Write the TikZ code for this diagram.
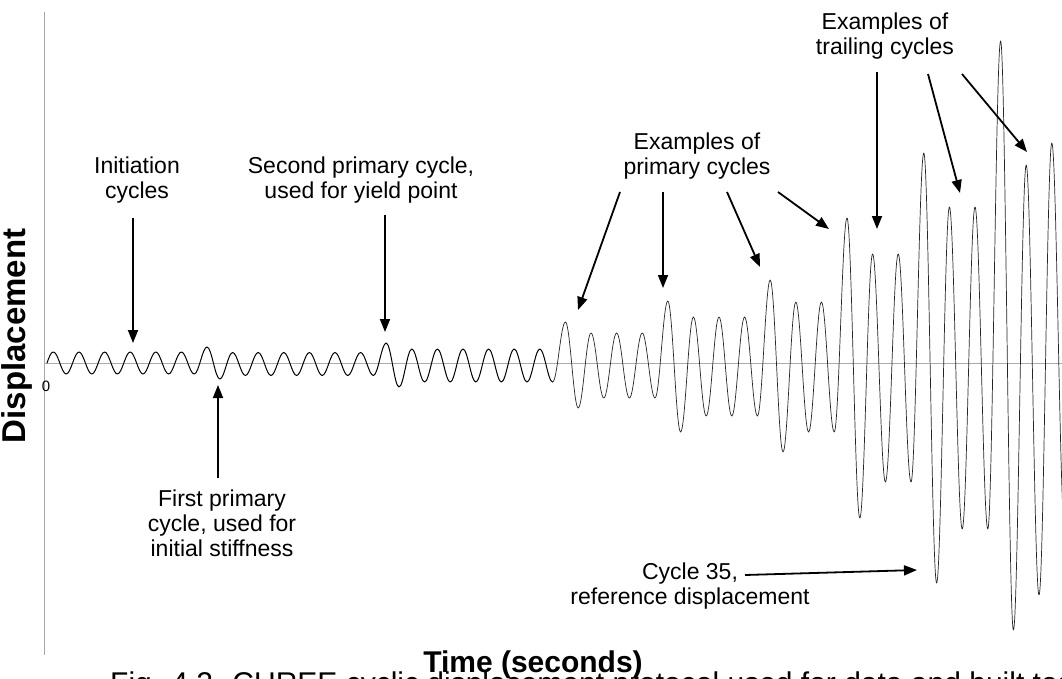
\documentclass[tikz,border=0pt]{standalone}
\usepackage{fontspec}
\setmainfont{Liberation Sans}
\usetikzlibrary{arrows.meta}
\begin{document}
\begin{tikzpicture}[x=1pt,y=-1pt,
  lbl/.style={font=\fontsize{23}{25}\selectfont, align=center, inner sep=0pt, anchor=north},
  axlbl/.style={font=\fontsize{30}{32}\selectfont\bfseries, inner sep=0pt},
  pointer/.style={line width=1.8pt, -{Triangle[length=13pt,width=10pt]}},
  wave/.style={line join=round, line cap=round},
  ]
\useasboundingbox (0,0) rectangle (1062,679);
\clip (0,0) rectangle (1062,679);
\fill[white] (0,0) rectangle (1062,679);

% axes
\coordinate (axtop) at (44,12);
\coordinate (axbot) at (44,655);
\coordinate (zl) at (44,363);
\coordinate (zr) at (1062,363);
\draw[gray!70, line width=0.8pt] (axtop) -- (axbot);
\draw[gray!65, line width=0.6pt] (zl) -- (zr);
\node[font=\fontsize{15}{15}\selectfont, inner sep=0pt] (zero) at (46,386) {0};

% waveform, part 1 (small cycles)
\draw[wave, line width=1pt, black] (47,363) .. controls (49.5,356) and (51,352) .. (53.4,352)
  \foreach \y [count=\i, remember=\y as \yp (initially 352)] in
  {374,352,374,352,374,352,374,352,374,352,374,
   347,379,
   352.5,375.5,352.5,375.5,352.5,375.5,352.5,375.5,352.5,375.5,352.5,375.5,
   343,387,
   349,382,349,382,349,382,349,382,349,382,349,382}
  { .. controls ({53.4+12.8*(\i-1)+4.652},\yp) and ({53.4+12.8*\i-4.652},\y) .. ({53.4+12.8*\i},\y) };

% waveform, part 2 (growing cycles)
\draw[wave, line width=0.7pt, black!85] (552.6,382)
  \foreach \y [count=\i, remember=\y as \yp (initially 382)] in
  {322,408,333,398,333,398,333,398,
   301,432,317,416,317,416,317,416,
   280,452,302,432,302,432,
   218,518,254,482,254,482,
   153,583,207,529,207,529,
   41,630,165,595,143,528}
  { .. controls ({552.6+12.8*(\i-1)+4.652},\yp) and ({552.6+12.8*\i-4.652},\y) .. ({552.6+12.8*\i},\y) };

% labels
\node[lbl] (ini) at (137,157) {Initiation\\cycles};
\node[lbl] (sec) at (361,157) {Second primary cycle,\\used for yield point};
\node[lbl] (fir) at (222,490) {First primary\\cycle, used for\\initial stiffness};
\node[lbl] (pri) at (697,133) {Examples of\\primary cycles};
\node[lbl] (tra) at (885,13) {Examples of\\trailing cycles};
\node[lbl] (c35) at (690,563) {Cycle 35,\\reference displacement};
\node[font=\fontsize{33}{35}\selectfont\bfseries, inner sep=0pt, rotate=90] (ylab) at (17,336) {Displacement};
\node[axlbl, anchor=base] (xlab) at (533,672) {Time (seconds)};
\node[font=\fontsize{30}{32}\selectfont, anchor=base west, inner sep=0pt] (cap) at (110,693)
  {Fig. 4.2. CUREE cyclic displacement protocol used for data and built test};

% arrow end points
\coordinate (iniT) at (133,218); \coordinate (iniH) at (133,343);
\coordinate (firT) at (218,478); \coordinate (firH) at (218,385);
\coordinate (secT) at (385,215); \coordinate (secH) at (385,332);
\coordinate (p1T) at (620,192);  \coordinate (p1H) at (578,310);
\coordinate (p2T) at (663,192);  \coordinate (p2H) at (663,288);
\coordinate (p3T) at (727,192);  \coordinate (p3H) at (760,267);
\coordinate (p4T) at (778,192);  \coordinate (p4H) at (829,229);
\coordinate (t1T) at (877,72);   \coordinate (t1H) at (877,229);
\coordinate (t2T) at (928,74);   \coordinate (t2H) at (960,193);
\coordinate (t3T) at (962,74);   \coordinate (t3H) at (1027,152);
\coordinate (cT) at (745,575);   \coordinate (cH) at (917,570);

\draw[pointer] (iniT) -- (iniH);
\draw[pointer] (firT) -- (firH);
\draw[pointer] (secT) -- (secH);
\draw[pointer] (p1T) -- (p1H);
\draw[pointer] (p2T) -- (p2H);
\draw[pointer] (p3T) -- (p3H);
\draw[pointer] (p4T) -- (p4H);
\draw[pointer] (t1T) -- (t1H);
\draw[pointer] (t2T) -- (t2H);
\draw[pointer] (t3T) -- (t3H);
\draw[pointer] (cT) -- (cH);
\end{tikzpicture}
\end{document}
